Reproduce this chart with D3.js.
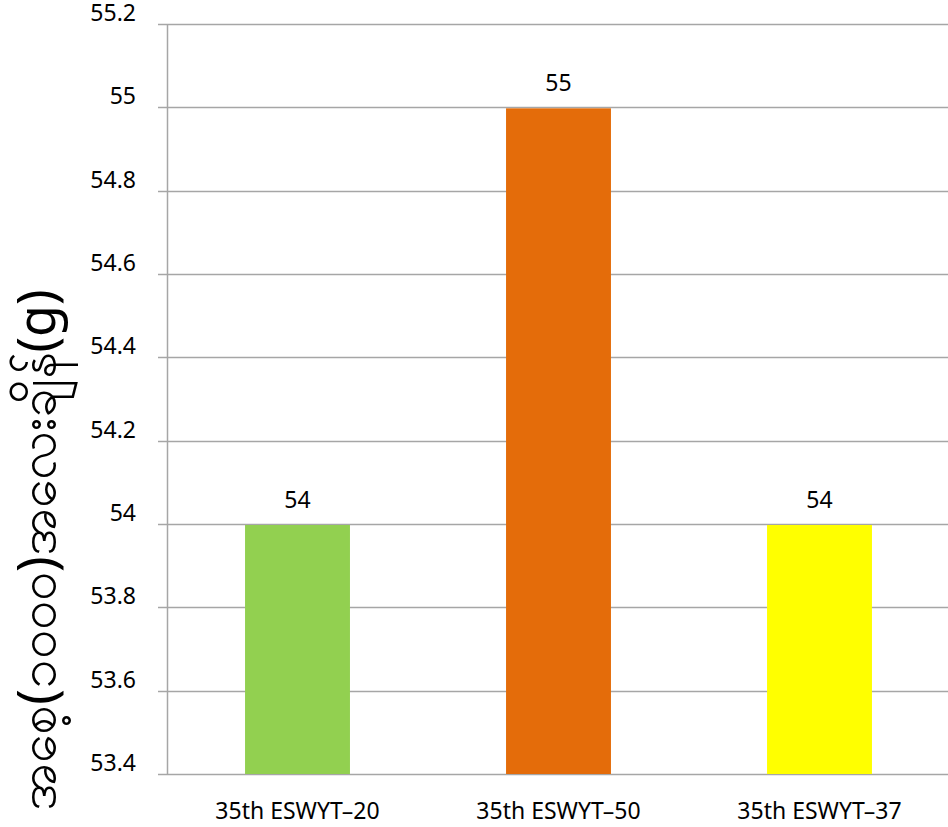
<!DOCTYPE html>
<html><head><meta charset="utf-8">
<script src="https://cdn.jsdelivr.net/npm/d3@7"></script>
<style>
html,body{margin:0;padding:0;background:#fff;}
svg{display:block;}
text{font-family:"Noto Sans","Open Sans",sans-serif;fill:#000;}
</style></head>
<body>
<svg id="chart" width="948" height="827"></svg>
<script>
const categories = ["35th ESWYT\u201320", "35th ESWYT\u201350", "35th ESWYT\u201337"];
const values = [54, 55, 54];
const barColors = ["#92D050", "#E46C0A", "#FFFF00"];
const yTicks = [53.4, 53.6, 53.8, 54, 54.2, 54.4, 54.6, 54.8, 55, 55.2];
const yTitle = "အစေ့(၁၀၀၀)အလေးချိန်(g)";

const svg = d3.select("#chart");
const plotLeft = 167, plotRight = 950, plotTop = 24, plotBottom = 774;

const x = d3.scaleBand().domain(categories).range([plotLeft, plotRight])
  .paddingInner(0.598).paddingOuter(0.299);
const y = d3.scaleLinear().domain([53.4, 55.2]).range([plotBottom, plotTop]);

// gridlines
svg.append("g").selectAll("line").data(yTicks).join("line")
  .attr("x1", 158).attr("x2", 948)
  .attr("y1", d => Math.round(y(d)) + 0.5).attr("y2", d => Math.round(y(d)) + 0.5)
  .attr("stroke", "#a6a6a6").attr("stroke-width", 1.5);

// bars
svg.append("g").selectAll("rect").data(values).join("rect")
  .attr("x", (d, i) => x(categories[i]))
  .attr("width", x.bandwidth())
  .attr("y", d => y(d) + 1)
  .attr("height", d => plotBottom - y(d) - 1)
  .attr("fill", (d, i) => barColors[i]);

// y axis line
svg.append("line").attr("x1", plotLeft + 0.5).attr("x2", plotLeft + 0.5)
  .attr("y1", plotTop).attr("y2", plotBottom + 1)
  .attr("stroke", "#a6a6a6").attr("stroke-width", 1.5);

// y tick labels
const yAxis = d3.axisLeft(y).tickValues(yTicks).tickSize(0).tickPadding(0)
  .tickFormat(d => d3.format("")(+d.toFixed(1)));
const ya = svg.append("g").attr("transform", `translate(136,0)`).call(yAxis);
ya.select(".domain").remove();
ya.selectAll("text").attr("font-size", 23).attr("dy", "-0.15em")
  .style("font-family", '"Noto Sans","Open Sans",sans-serif').attr("fill", "#000");

// x labels
const xAxis = d3.axisBottom(x).tickSize(0).tickPadding(0);
const xa = svg.append("g").attr("transform", `translate(0,${plotBottom})`).call(xAxis);
xa.select(".domain").remove();
xa.selectAll("text").attr("font-size", 23).attr("y", 45).attr("dy", 0)
  .style("font-family", '"Noto Sans","Open Sans",sans-serif').attr("fill", "#000");

// value labels
svg.append("g").selectAll("text").data(values).join("text")
  .attr("x", (d, i) => x(categories[i]) + x.bandwidth() / 2)
  .attr("y", d => y(d) - 16)
  .attr("text-anchor", "middle").attr("font-size", 23)
  .text(d => d);

// y title
svg.append("text")
  .attr("transform", `translate(55,550) rotate(-90)`)
  .attr("text-anchor", "middle").attr("font-size", 52)
  .text(yTitle);
</script>
</body></html>
